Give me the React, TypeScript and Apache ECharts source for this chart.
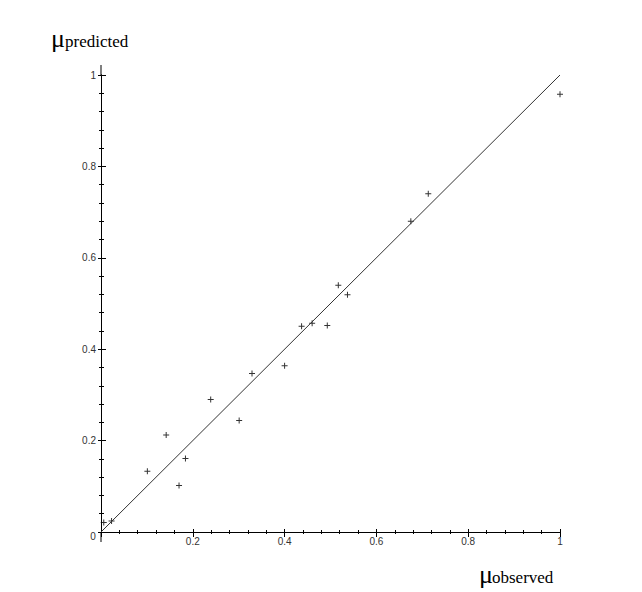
import React, { useEffect, useRef } from "react";
import * as echarts from "echarts";

const observed = [0.006, 0.023, 0.101, 0.142, 0.17, 0.184, 0.239, 0.301, 0.329, 0.4, 0.437, 0.46, 0.493, 0.517, 0.537, 0.675, 0.713, 1.0];
const predicted = [0.021, 0.024, 0.133, 0.212, 0.102, 0.161, 0.29, 0.244, 0.347, 0.364, 0.45, 0.457, 0.452, 0.54, 0.519, 0.68, 0.74, 0.958];
const identityLine = [[0, 0], [1, 1]];
const axisMin = 0;
const axisMax = 1;
const axisStep = 0.2;

const PLUS = "path://M2.5,0h1v6h-1z M0,2.5h6v1h-6z";
const LABEL_FONT = "Liberation Sans";
const SERIF = "Liberation Serif";

export default function App() {
  const ref = useRef<HTMLDivElement>(null);
  useEffect(() => {
    document.body.style.margin = "0";
    if (!ref.current) return;
    const chart = echarts.init(ref.current, null, { renderer: "svg" });
    const labelFmt = (v: number) => (v === 0 ? "" : String(Number(v.toFixed(2))));
    const baseAxis = {
      type: "value" as const,
      min: axisMin,
      max: axisMax,
      interval: axisStep,
      splitLine: { show: false },
      axisLine: { show: true, lineStyle: { color: "#000", width: 1 } },
    };
    chart.setOption({
      animation: false,
      backgroundColor: "#fff",
      grid: { left: 101, right: 82, top: 75, bottom: 60 },
      xAxis: [
        {
          ...baseAxis,
          position: "bottom",
          axisTick: { show: true, inside: true, length: 3, lineStyle: { color: "#000" } },
          minorTick: { show: true, splitNumber: 5, length: 2, lineStyle: { color: "#000" } },
          axisLabel: { show: true, margin: 4, fontSize: 10, fontFamily: LABEL_FONT, color: "#333", formatter: labelFmt },
        },
        {
          ...baseAxis,
          position: "bottom",
          axisTick: { show: true, inside: false, length: 5, lineStyle: { color: "#000" } },
          minorTick: { show: true, splitNumber: 5, length: 2, lineStyle: { color: "#000" } },
          axisLabel: { show: false },
        },
      ],
      yAxis: [
        {
          ...baseAxis,
          position: "left",
          axisTick: { show: true, inside: true, length: 5, lineStyle: { color: "#000" } },
          minorTick: { show: true, splitNumber: 5, length: 3, lineStyle: { color: "#000" } },
          axisLabel: { show: true, margin: 5, fontSize: 10, fontFamily: LABEL_FONT, color: "#333", formatter: labelFmt },
        },
        {
          ...baseAxis,
          position: "left",
          axisTick: { show: true, inside: false, length: 3, lineStyle: { color: "#000" } },
          minorTick: { show: true, splitNumber: 5, length: 2, lineStyle: { color: "#000" } },
          axisLabel: { show: false },
        },
      ],
      graphic: [
        { type: "line", shape: { x1: 101, y1: 65, x2: 101, y2: 75 }, style: { stroke: "#000", lineWidth: 1 } },
        { type: "line", shape: { x1: 101, y1: 532, x2: 101, y2: 542 }, style: { stroke: "#000", lineWidth: 1 } },
        { type: "text", style: { text: "0", x: 93, y: 536, font: `10px "${LABEL_FONT}"`, fill: "#333", align: "center", verticalAlign: "middle" } },
        { type: "text", style: { text: "μ", x: 51, y: 38, font: `26px "${SERIF}"`, fill: "#000", align: "left", verticalAlign: "middle" } },
        { type: "text", style: { text: "predicted", x: 65, y: 41, font: `17px "${SERIF}"`, fill: "#000", align: "left", verticalAlign: "middle" } },
        { type: "text", style: { text: "μ", x: 479, y: 574, font: `26px "${SERIF}"`, fill: "#000", align: "left", verticalAlign: "middle" } },
        { type: "text", style: { text: "observed", x: 492, y: 577, font: `17px "${SERIF}"`, fill: "#000", align: "left", verticalAlign: "middle" } },
      ],
      series: [
        {
          type: "line",
          data: identityLine,
          showSymbol: false,
          lineStyle: { color: "#333", width: 1 },
          silent: true,
        },
        {
          type: "scatter",
          data: observed.map((x, i) => [x, predicted[i]]),
          symbol: PLUS,
          symbolSize: 6,
          itemStyle: { color: "#000" },
        },
      ],
    });
    return () => chart.dispose();
  }, []);
  return <div ref={ref} style={{ width: 642, height: 592 }} />;
}
